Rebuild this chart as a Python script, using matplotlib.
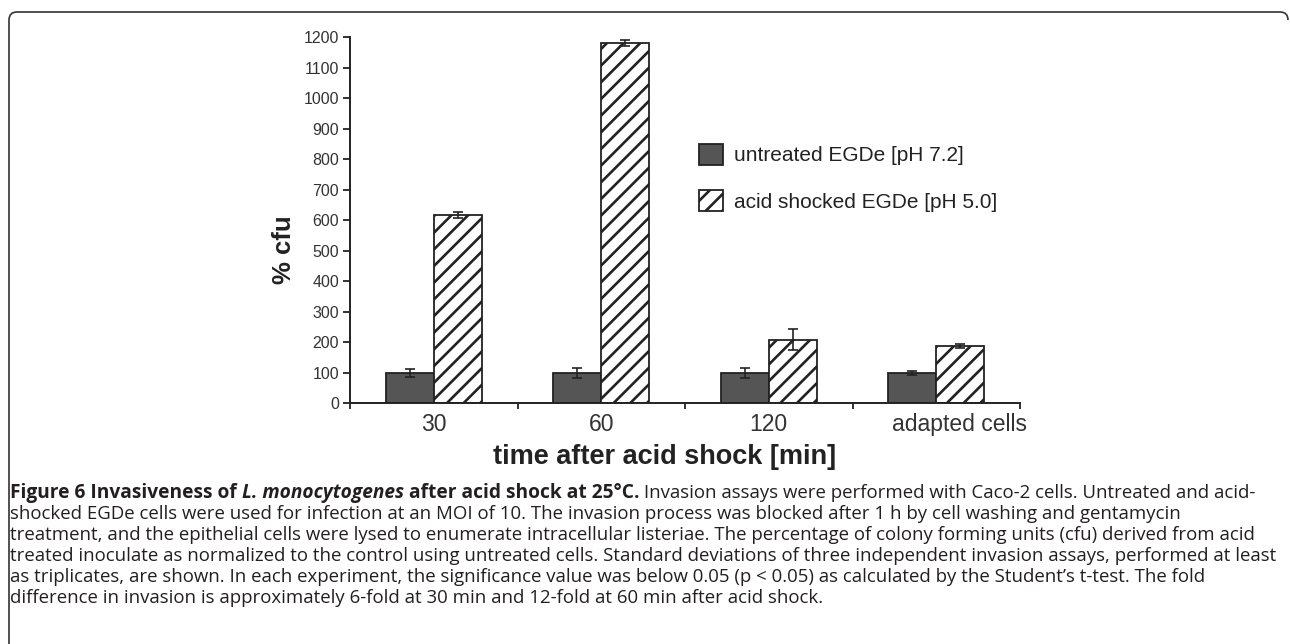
import matplotlib
matplotlib.use("Agg")
import matplotlib.pyplot as plt
from matplotlib.patches import PathPatch
from matplotlib.path import Path

# Data points
groups = ["30", "60", "120", "adapted cells"]
untreated = [100, 100, 100, 100]
untreated_err = [13, 17, 17, 7]
acid = [618, 1180, 209, 188]
acid_err = [10, 10, 36, 7]
yticks = list(range(0, 1201, 100))

legend_labels = ["untreated EGDe [pH 7.2]", "acid shocked EGDe [pH 5.0]"]

caption_head = [("Figure 6 Invasiveness of ", "bold", "normal"),
                ("L. monocytogenes", "bold", "italic"),
                (" after acid shock at 25°C.", "bold", "normal"),
                (" Invasion assays were performed with Caco-2 cells. Untreated and acid-", "normal", "normal")]
caption_lines = [
    "shocked EGDe cells were used for infection at an MOI of 10. The invasion process was blocked after 1 h by cell washing and gentamycin",
    "treatment, and the epithelial cells were lysed to enumerate intracellular listeriae. The percentage of colony forming units (cfu) derived from acid",
    "treated inoculate as normalized to the control using untreated cells. Standard deviations of three independent invasion assays, performed at least",
    "as triplicates, are shown. In each experiment, the significance value was below 0.05 (p < 0.05) as calculated by the Student\u2019s t-test. The fold",
    "difference in invasion is approximately 6-fold at 30 min and 12-fold at 60 min after acid shock.",
]

plt.rcParams['font.family'] = ['Liberation Sans', 'DejaVu Sans']
plt.rcParams['hatch.linewidth'] = 1.9
cap_font = 'Open Sans'

W, H = 1290, 644
fig = plt.figure(figsize=(W / 100, H / 100), dpi=100)
ax = fig.add_axes([350 / W, 1 - 403.3 / H, 670 / W, 366.3 / H])

x = list(range(len(groups)))
bw = 0.287
ink = '#222222'
ax.bar([i - bw / 2 for i in x], untreated, bw, color='#555555', edgecolor=ink, linewidth=1.3,
       yerr=untreated_err, capsize=3.5, error_kw=dict(ecolor=ink, elinewidth=1.2, capthick=1.2),
       label=legend_labels[0], zorder=2)
ax.bar([i + bw / 2 for i in x], acid, bw, color='white', edgecolor=ink, linewidth=1.3, hatch='//',
       yerr=acid_err, capsize=3.5, error_kw=dict(ecolor=ink, elinewidth=1.2, capthick=1.2),
       label=legend_labels[1], zorder=2)

ax.set_xlim(-0.5, len(groups) - 0.5)
ax.set_ylim(0, 1200)
ax.set_yticks(yticks)
# the last label sits a little to the right in the original
label_pos = x[:-1] + [x[-1] + 0.14]
ax.set_xticks(label_pos)
ax.set_xticklabels(groups, fontsize=16.5, color='#333333')
ax.set_xticks([i - 0.5 for i in range(len(groups) + 1)], minor=True)
ax.tick_params(axis='x', which='major', length=0, pad=7)
ax.tick_params(axis='x', which='minor', length=4, width=1.3, color=ink, direction='out')
ax.tick_params(axis='y', labelsize=11.5, labelcolor='#333333', length=5, width=1.3, color=ink, pad=3)
for s in ['top', 'right']:
    ax.spines[s].set_visible(False)
for s in ['left', 'bottom']:
    ax.spines[s].set_linewidth(1.4)
    ax.spines[s].set_color(ink)

fig.text(284 / W, 1 - 250 / H, "% cfu", rotation=90, fontsize=18.5, fontweight='bold',
         ha='center', va='center', color='#222222')
fig.text(665 / W, 1 - 457 / H, "time after acid shock [min]", fontsize=19.5, fontweight='bold',
         ha='center', va='center', color='#222222')

ax.legend(loc='upper left', bbox_to_anchor=(699 / W, 1 - 144 / H), bbox_transform=fig.transFigure,
          frameon=False, fontsize=15, handlelength=1.15, handleheight=1.15, handletextpad=0.55,
          labelspacing=1.2, borderpad=0, borderaxespad=0, labelcolor='#222222')

# caption
head_size = 13.8
reg_size = 13.4
fig.canvas.draw()
r = fig.canvas.get_renderer()
xpos = 10
for txt, w, st in caption_head:
    t = fig.text(xpos / W, 1 - 493 / H, txt, fontsize=head_size if w == 'bold' else reg_size,
                 fontweight=w, fontstyle=st, family=cap_font, ha='left', va='center', color='#231f20')
    bb = t.get_window_extent(renderer=r)
    xpos += bb.width
for k, line in enumerate(caption_lines):
    fig.text(10 / W, 1 - (514 + 21 * k) / H, line, fontsize=reg_size, family=cap_font,
             ha='left', va='center', color='#231f20')

# frame around the figure (open at the bottom and on the right)
pts = [(9, 650), (9, 20), (9, 12), (17, 12), (1280, 12), (1288, 12), (1288, 20)]
codes = [Path.MOVETO, Path.LINETO, Path.CURVE3, Path.CURVE3, Path.LINETO, Path.CURVE3, Path.CURVE3]
frame = PathPatch(Path([(px / W, 1 - py / H) for px, py in pts], codes), transform=fig.transFigure,
                  fill=False, edgecolor='#333333', linewidth=1.2)
fig.patches.append(frame)

fig.savefig("out.png", dpi=100)
